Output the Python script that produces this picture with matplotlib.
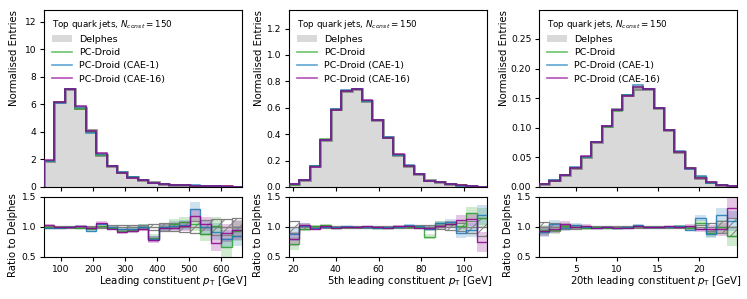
import numpy as np
import matplotlib
matplotlib.use("Agg")
import matplotlib.pyplot as plt
from matplotlib.patches import Patch
from matplotlib.lines import Line2D

plt.rcParams['font.size'] = 7.3
plt.rcParams['xtick.labelsize'] = 6.6
plt.rcParams['ytick.labelsize'] = 6.6
plt.rcParams['xtick.major.size'] = 3
plt.rcParams['ytick.major.size'] = 3
plt.rcParams['xtick.major.pad'] = 2.5
plt.rcParams['ytick.major.pad'] = 2.5
plt.rcParams['hatch.linewidth'] = 0.7

# bin ranges (GeV) for the three observables, 19 bins each
ranges = [(47.0, 665.0), (18.2, 110.6), (0.5, 24.6)]
xlabels = ["Leading constituent $p_\\mathrm{T}$ [GeV]",
           "5th leading constituent $p_\\mathrm{T}$ [GeV]",
           "20th leading constituent $p_\\mathrm{T}$ [GeV]"]
xticks = [[100, 200, 300, 400, 500, 600], [20, 40, 60, 80, 100], [5, 10, 15, 20]]

# Delphes normalised histograms
delphes_lead = [1.92, 6.15, 7.15, 5.75, 4.15, 2.3, 1.55, 1.12, 0.74, 0.5, 0.36, 0.25,
                0.17, 0.12, 0.09, 0.07, 0.05, 0.04, 0.03]
delphes_5th = [0.025, 0.055, 0.16, 0.355, 0.59, 0.73, 0.745, 0.655, 0.51, 0.375, 0.245, 0.16,
               0.098, 0.05, 0.035, 0.02, 0.012, 0.006, 0.003]
delphes_20th = [0.005, 0.011, 0.02, 0.032, 0.051, 0.076, 0.103, 0.131, 0.156, 0.165, 0.166,
                0.134, 0.096, 0.059, 0.032, 0.016, 0.008, 0.0035, 0.0015]

# ratios to Delphes
pcd_lead = [1.0, 1.0, 1.0, 0.99, 0.96, 1.02, 0.99, 0.93, 0.95, 1.0, 0.82, 1.0, 1.05, 1.08,
            1.05, 0.88, 1.02, 0.66, 0.93]
cae1_lead = [0.99, 0.99, 1.0, 1.01, 0.94, 1.05, 1.0, 0.96, 0.97, 1.0, 0.8, 1.0, 1.02, 1.03,
             1.3, 1.0, 0.92, 0.8, 0.85]
cae16_lead = [1.03, 1.0, 1.0, 1.02, 0.98, 1.07, 0.97, 0.91, 0.93, 0.97, 0.79, 0.98, 0.99, 1.02,
              1.19, 1.05, 0.74, 0.9, 0.95]
err_lead = [0.02, 0.01, 0.01, 0.01, 0.015, 0.02, 0.025, 0.03, 0.035, 0.04, 0.05, 0.06, 0.07,
            0.08, 0.1, 0.11, 0.13, 0.14, 0.15]

pcd_5th = [0.72, 0.97, 1.01, 1.03, 0.99, 1.0, 1.0, 1.0, 0.99, 0.99, 1.0, 1.0, 1.0, 0.84,
           1.06, 1.05, 1.02, 1.23, 1.15]
cae1_5th = [0.88, 1.02, 0.99, 1.0, 1.0, 1.01, 1.0, 1.0, 0.99, 1.0, 1.0, 1.03, 1.01, 0.97,
            1.06, 1.08, 0.9, 0.95, 1.2]
cae16_5th = [0.8, 1.03, 0.97, 1.01, 0.99, 1.0, 1.0, 1.01, 1.0, 0.98, 1.01, 1.01, 0.99, 0.98,
             1.01, 1.05, 1.12, 1.13, 0.75]
err_5th = [0.1, 0.04, 0.02, 0.015, 0.01, 0.01, 0.01, 0.01, 0.01, 0.015, 0.015, 0.02, 0.025,
           0.035, 0.04, 0.05, 0.07, 0.1, 0.15]

pcd_20th = [0.95, 0.95, 1.02, 1.0, 0.98, 1.0, 0.98, 0.98, 1.0, 1.02, 1.0, 1.0, 1.0, 1.01,
            0.98, 1.07, 0.9, 1.0, 0.85]
cae1_20th = [0.92, 1.05, 0.98, 1.03, 1.0, 0.99, 1.0, 0.99, 1.0, 1.04, 1.0, 1.0, 1.0, 1.02,
             0.95, 1.15, 0.88, 1.2, 1.1]
cae16_20th = [0.93, 0.96, 1.05, 1.0, 1.02, 0.99, 1.0, 0.99, 0.98, 1.02, 1.0, 1.0, 1.01, 1.0,
              1.02, 0.96, 0.97, 0.96, 1.32]
err_20th = [0.08, 0.06, 0.04, 0.03, 0.02, 0.015, 0.01, 0.01, 0.01, 0.01, 0.01, 0.01, 0.01,
            0.015, 0.02, 0.04, 0.06, 0.1, 0.15]

delphes = [delphes_lead, delphes_5th, delphes_20th]
models = [[pcd_lead, cae1_lead, cae16_lead],
          [pcd_5th, cae1_5th, cae16_5th],
          [pcd_20th, cae1_20th, cae16_20th]]
errs = [err_lead, err_5th, err_20th]

labels = ["PC-Droid", "PC-Droid (CAE-1)", "PC-Droid (CAE-16)"]
colors = ["#2ca02c", "#1f77b4", "#8b008b"]
leg_colors = ["#6cc46c", "#5ea6d6", "#b44fb4"]

fig = plt.figure(figsize=(7.47, 2.99), dpi=100)
lefts = [44 / 747, 289 / 747, 539 / 747]
w = 198 / 747
ylab_x = [-0.125, -0.125, -0.15]

for i in range(3):
    ax = fig.add_axes([lefts[i], 0.3746, w, 0.592])
    rax = fig.add_axes([lefts[i], 0.1405, w, 0.2007], sharex=ax)

    edges = np.linspace(ranges[i][0], ranges[i][1], 20)
    d = np.array(delphes[i])
    e = np.array(errs[i])

    ax.stairs(d, edges, fill=True, color="#d9d9d9", zorder=1)
    ax.stairs(d, edges, color="#777777", lw=2, alpha=0.8, zorder=2)
    for r, c in zip(models[i], colors):
        ax.stairs(d * np.array(r), edges, color=c, lw=1.1, alpha=0.85, zorder=3)
    ax.set_ylim(0, 1.8 * d.max())
    ax.set_xlim(ranges[i])
    ax.set_ylabel("Normalised Entries", loc="top")
    ax.yaxis.set_label_coords(ylab_x[i], 1.0)
    ax.tick_params(labelbottom=False)

    handles = [Patch(facecolor="#d9d9d9", edgecolor="none", label="Delphes")]
    handles += [Line2D([], [], color=lc, lw=1.2, label=l) for lc, l in zip(leg_colors, labels)]
    ax.legend(handles=handles, loc="upper left", frameon=False,
              title="Top quark jets, $N_{const} = 150$", alignment="left",
              fontsize=6.8, title_fontsize=6.3, handlelength=2.2, handletextpad=0.7,
              borderaxespad=0.4, labelspacing=0.45)

    # ratio panel
    centers = 0.5 * (edges[1:] + edges[:-1])
    widths = np.diff(edges)
    rax.bar(centers, 2 * e, bottom=1 - e, width=widths, fill=False, hatch="///",
            edgecolor="#808080", lw=0.9, zorder=2)
    rax.stairs(np.ones_like(d), edges, baseline=None, color="#808080", lw=1, zorder=2)
    for r, c in zip(models[i], colors):
        r = np.array(r)
        rax.stairs(r + e * 1.1, edges, baseline=r - e * 1.1, fill=True, color=c,
                   alpha=0.22, lw=0, zorder=1)
        rax.stairs(r, edges, baseline=None, color=c, lw=1.0, alpha=0.85, zorder=3)
    rax.set_ylim(0.5, 1.5)
    rax.set_yticks([0.5, 1.0, 1.5])
    rax.set_xticks(xticks[i])
    rax.set_xlim(ranges[i])
    rax.set_ylabel("Ratio to Delphes", loc="top")
    rax.yaxis.set_label_coords(-0.13, 1.07)
    rax.set_xlabel(xlabels[i], loc="right")
    rax.xaxis.set_label_coords(1.025, -0.29)

fig.savefig("out.png", dpi=100)
